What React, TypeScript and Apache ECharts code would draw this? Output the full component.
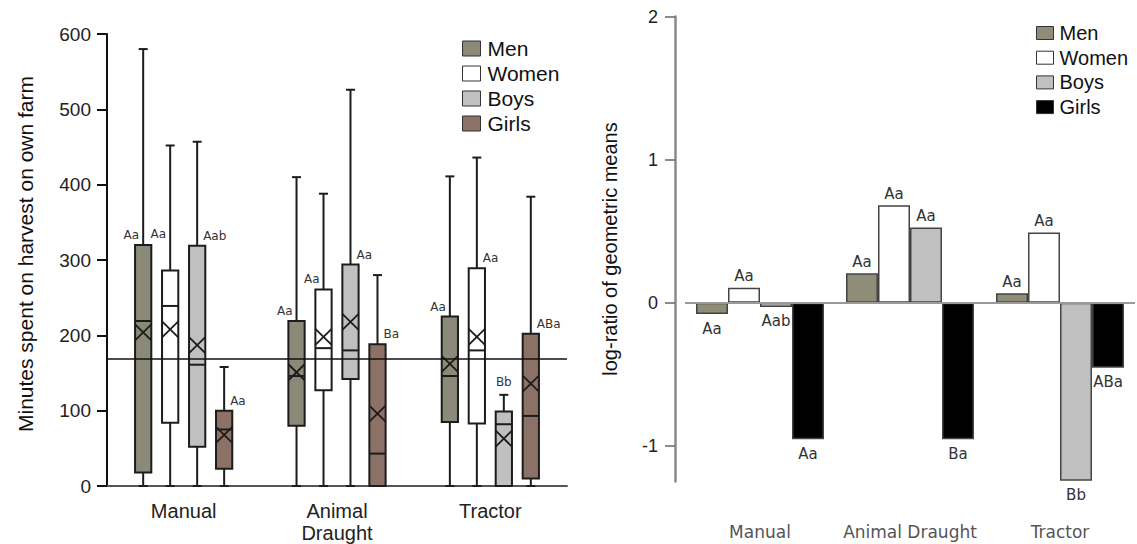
import React, { useEffect, useRef } from "react";
import * as echarts from "echarts";

// ---------- data ----------
const boxCategories = ["Manual", "Animal\nDraught", "Tractor"];
const ratioCategories = ["Manual", "Animal Draught", "Tractor"];
const groupNames = ["Men", "Women", "Boys", "Girls"];
const ratioTicks = [-1, 0, 1, 2];

// per category: [lower whisker, Q1, median, Q3, upper whisker, mean]
const menBoxes = [
  [0, 18, 219, 320, 580, 204],
  [0, 80, 146, 219, 410, 151],
  [0, 85, 146, 225, 411, 162],
];
const womenBoxes = [
  [0, 84, 239, 286, 452, 208],
  [0, 127, 183, 261, 388, 198],
  [0, 83, 180, 289, 436, 198],
];
const boysBoxes = [
  [0, 52, 161, 319, 457, 187],
  [0, 142, 180, 294, 526, 218],
  [0, 0, 82, 99, 121, 63],
];
const girlsBoxes = [
  [0, 23, 75, 100, 158, 68],
  [0, 0, 43, 188, 280, 96],
  [0, 10, 93, 202, 384, 136],
];
const overallMean = 169.5;

const menBoxLetters = ["Aa", "Aa", "Aa"];
const womenBoxLetters = ["Aa", "Aa", "Aa"];
const boysBoxLetters = ["Aab", "Aa", "Bb"];
const girlsBoxLetters = ["Aa", "Ba", "ABa"];

// log-ratio of geometric means
const menRatio = [-0.08, 0.205, 0.065];
const womenRatio = [0.105, 0.68, 0.49];
const boysRatio = [-0.03, 0.525, -1.245];
const girlsRatio = [-0.955, -0.955, -0.455];

const menRatioLetters = ["Aa", "Aa", "Aa"];
const womenRatioLetters = ["Aa", "Aa", "Aa"];
const boysRatioLetters = ["Aab", "Aa", "Bb"];
const girlsRatioLetters = ["Aa", "Ba", "ABa"];

// ---------- styles / layout ----------
const boxColors = ["#8b8a78", "#ffffff", "#c0c0c0", "#8c7166"];
const barColors = ["#8f8c78", "#ffffff", "#c0c0c0", "#000000"];
// letter placement relative to each box: l = left of box top, r = right, t = above whisker
const letterSide = [
  ["l", "l", "l"],
  ["l", "l", "r"],
  ["r", "r", "t"],
  ["r", "r", "r"],
];
const letterLift = [
  [0, 0, 0],
  [27, 0, 0],
  [0, 0, 0],
  [0, 0, 0],
];

const SANS = "'Liberation Sans', Arial, sans-serif";
const VERDANA = "'DejaVu Sans', Verdana, sans-serif";

export default function App() {
  const ref = useRef<HTMLDivElement>(null);

  useEffect(() => {
    const chart = echarts.init(ref.current as HTMLDivElement, null, { renderer: "svg" });

    const boxes = [menBoxes, womenBoxes, boysBoxes, girlsBoxes];
    const boxLetters = [menBoxLetters, womenBoxLetters, boysBoxLetters, girlsBoxLetters];
    const ratios = [menRatio, womenRatio, boysRatio, girlsRatio];
    const ratioLetters = [menRatioLetters, womenRatioLetters, boysRatioLetters, girlsRatioLetters];

    const makeRender = (g: number) => (params: any, api: any) => {
      const ci = api.value(0) as number;
      const band = api.size([1, 0])[0];
      const base = api.coord([ci, 0]);
      const cx = base[0] + (g - 1.5) * band * 0.176;
      const hw = band * 0.053;
      const Y = (v: number) => api.coord([ci, v])[1];
      const lo = api.value(1), q1 = api.value(2), med = api.value(3);
      const q3 = api.value(4), hi = api.value(5), mean = api.value(6);
      const stroke = "#1c1c1c";
      const lw = 2;
      const cap = 4.5;
      const hh = 8;
      const children: any[] = [];
      children.push({ type: "line", shape: { x1: cx, y1: Y(q3), x2: cx, y2: Y(hi) }, style: { stroke, lineWidth: lw } });
      children.push({ type: "line", shape: { x1: cx - cap, y1: Y(hi), x2: cx + cap, y2: Y(hi) }, style: { stroke, lineWidth: lw } });
      if (q1 > lo) {
        children.push({ type: "line", shape: { x1: cx, y1: Y(q1), x2: cx, y2: Y(lo) }, style: { stroke, lineWidth: lw } });
        children.push({ type: "line", shape: { x1: cx - cap, y1: Y(lo), x2: cx + cap, y2: Y(lo) }, style: { stroke, lineWidth: lw } });
      }
      children.push({
        type: "rect",
        shape: { x: cx - hw, y: Y(q3), width: 2 * hw, height: Y(q1) - Y(q3) },
        style: { fill: boxColors[g], stroke, lineWidth: lw },
      });
      children.push({ type: "line", shape: { x1: cx - hw, y1: Y(med), x2: cx + hw, y2: Y(med) }, style: { stroke, lineWidth: lw } });
      const ym = Y(mean);
      children.push({ type: "line", shape: { x1: cx - hw, y1: ym - hh, x2: cx + hw, y2: ym + hh }, style: { stroke, lineWidth: 1.8 } });
      children.push({ type: "line", shape: { x1: cx - hw, y1: ym + hh, x2: cx + hw, y2: ym - hh }, style: { stroke, lineWidth: 1.8 } });
      const side = letterSide[g][ci];
      const lift = letterLift[g][ci];
      let tx = cx, ty = Y(q3) - 10 - lift, align = "center";
      if (side === "l") { tx = cx - 4; align = "right"; }
      else if (side === "r") { tx = cx + 6; align = "left"; }
      else { tx = cx; ty = Y(hi) - 13 - lift; align = "center"; }
      children.push({
        type: "text",
        style: {
          text: boxLetters[g][ci], x: tx, y: ty, align, verticalAlign: "middle",
          fill: "#333", fontSize: 12, fontFamily: VERDANA,
        },
      });
      return { type: "group", children };
    };

    const boxSeries = groupNames.map((name, g) => ({
      type: "custom",
      name,
      xAxisIndex: 0,
      yAxisIndex: 0,
      itemStyle: { color: boxColors[g] },
      renderItem: makeRender(g),
      encode: { x: 0, y: [1, 2, 3, 4, 5] },
      data: boxes[g].map((row, i) => [i, ...row]),
      z: 3,
    }));

    const barSeries = groupNames.map((name, g) => ({
      type: "bar",
      name,
      xAxisIndex: 1,
      yAxisIndex: 1,
      barWidth: 32,
      barGap: "0%",
      itemStyle: { color: barColors[g], borderColor: "#444", borderWidth: 1.5 },
      label: { show: true, fontSize: 15, fontFamily: VERDANA, color: "#333" },
      data: ratios[g].map((v, i) => ({
        value: v,
        label: {
          show: true,
          position: v >= 0 ? "top" : "bottom",
          distance: v >= 0 ? 4 : 7,
          formatter: ratioLetters[g][i],
        },
      })),
      markLine:
        g === 0
          ? {
              silent: true,
              symbol: "none",
              label: { show: false },
              lineStyle: { color: "#9a9a9a", width: 2, type: "solid" },
              data: [{ yAxis: 0 }],
            }
          : undefined,
      z: 2,
    }));

    const option: any = {
      animation: false,
      backgroundColor: "#ffffff",
      grid: [
        { left: 107, top: 34, width: 460, height: 452 },
        { left: 685, top: 16.5, width: 450, height: 465 },
      ],
      legend: [
        {
          orient: "vertical",
          left: 462,
          top: 38,
          padding: 0,
          itemWidth: 18,
          itemHeight: 15,
          itemGap: 4,
          icon: "rect",
          selectedMode: false,
          textStyle: { fontSize: 21, fontFamily: SANS, color: "#111", padding: [0, 0, 0, 2] },
          data: groupNames.map((n, i) => ({
            name: n,
            itemStyle: { color: boxColors[i], borderColor: "#333", borderWidth: 1 },
          })),
        },
        {
          orient: "vertical",
          left: 1036,
          top: 23,
          padding: 0,
          itemWidth: 17,
          itemHeight: 13,
          itemGap: 4.7,
          icon: "rect",
          selectedMode: false,
          textStyle: { fontSize: 20, fontFamily: SANS, color: "#111", padding: [0, 0, 0, 1] },
          data: groupNames.map((n, i) => ({
            name: n,
            itemStyle: { color: barColors[i], borderColor: "#333", borderWidth: 1 },
          })),
        },
      ],
      xAxis: [
        {
          type: "category",
          gridIndex: 0,
          data: boxCategories,
          boundaryGap: true,
          axisLine: { show: true, onZero: false, lineStyle: { color: "#555", width: 2 } },
          axisTick: { show: false },
          axisLabel: { interval: 0, fontSize: 20, fontFamily: SANS, color: "#222", margin: 14, lineHeight: 22 },
          splitLine: { show: false },
        },
        {
          type: "category",
          gridIndex: 1,
          data: ratioCategories,
          boundaryGap: true,
          axisLine: { show: false, onZero: false },
          axisTick: { show: false },
          axisLabel: { interval: 0, hideOverlap: false, fontSize: 17, fontFamily: VERDANA, color: "#555", margin: 42 },
          splitLine: { show: false },
        },
      ],
      yAxis: [
        {
          type: "value",
          gridIndex: 0,
          min: 0,
          max: 600,
          interval: 100,
          name: "Minutes spent on harvest on own farm",
          nameLocation: "middle",
          nameGap: 71,
          nameTextStyle: { fontSize: 21, fontFamily: SANS, color: "#111", padding: [0, 0, 0, 12] },
          axisLine: { show: true, lineStyle: { color: "#111", width: 2 } },
          axisTick: { show: true, length: 10, lineStyle: { color: "#111", width: 2 } },
          axisLabel: { fontSize: 19, fontFamily: SANS, color: "#222", margin: 16 },
          splitLine: { show: false },
        },
        {
          type: "value",
          gridIndex: 1,
          min: -1.25,
          max: 2,
          offset: 10,
          name: "log-ratio of geometric means",
          nameLocation: "middle",
          nameGap: 55,
          nameTextStyle: { fontSize: 20, fontFamily: SANS, color: "#111" },
          axisLine: { show: true, lineStyle: { color: "#8a8a8a", width: 2.5 } },
          axisTick: { show: true, length: 10, customValues: ratioTicks, lineStyle: { color: "#666", width: 1.5 } },
          axisLabel: { fontSize: 18, fontFamily: SANS, color: "#222", margin: 17, customValues: ratioTicks },
          splitLine: { show: false },
        },
      ],
      series: [
        ...boxSeries,
        {
          type: "scatter",
          name: "overall mean",
          xAxisIndex: 0,
          yAxisIndex: 0,
          data: [],
          silent: true,
          markLine: {
            silent: true,
            symbol: "none",
            label: { show: false },
            lineStyle: { color: "#111", width: 1.5, type: "solid" },
            data: [{ yAxis: overallMean }],
          },
          z: 4,
        },
        ...barSeries,
      ],
    };

    chart.setOption(option);
    return () => chart.dispose();
  }, []);

  return (
    <div
      ref={ref}
      style={{ position: "fixed", left: 0, top: 0, width: 1137, height: 544, background: "#fff" }}
    />
  );
}
